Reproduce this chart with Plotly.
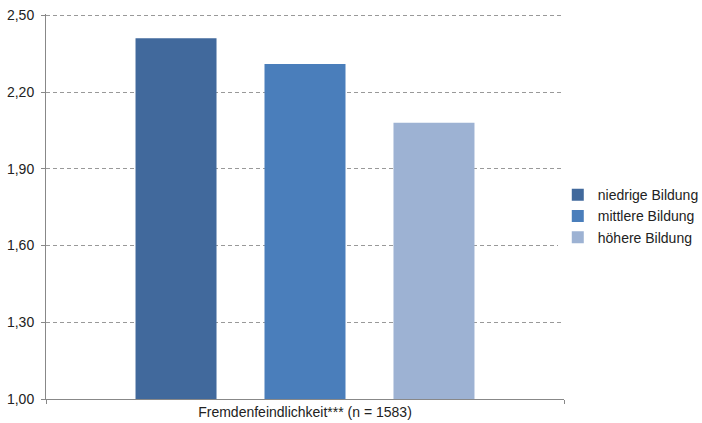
import plotly.graph_objects as go

category = ["Fremdenfeindlichkeit*** (n = 1583)"]
series_names = ["niedrige Bildung", "mittlere Bildung", "höhere Bildung"]
series_values = [2.41, 2.31, 2.08]
colors = ["#41699C", "#4A7EBB", "#9DB2D3"]
y_ticks = [1.0, 1.3, 1.6, 1.9, 2.2, 2.5]

fig = go.Figure()
for i, (name, val, col) in enumerate(zip(series_names, series_values, colors)):
    fig.add_trace(go.Bar(x=category, y=[val], name=name, marker_color=col,
                         marker_line_width=0, legendgroup=name))

fig.update_layout(
    width=702, height=423,
    margin=dict(l=46, r=138, t=14, b=24, autoexpand=False),
    paper_bgcolor="white", plot_bgcolor="white",
    barmode="group", bargap=0.253, bargroupgap=0.372,
    separators=",.",
    font=dict(family="Liberation Sans, Arial, sans-serif", size=14, color="#222"),
    legend=dict(x=0.988, xanchor="left", y=0.475, yanchor="middle",
                traceorder="grouped", tracegroupgap=0,
                font=dict(size=14, color="#222"), itemwidth=30),
    showlegend=True,
)
fig.update_yaxes(range=[1.0, 2.505], tickvals=y_ticks, tickformat=".2f",
                 showgrid=True, gridcolor="#999", griddash="4px,3px", gridwidth=1,
                 showline=True, linecolor="#888", linewidth=1,
                 ticks="outside", ticklen=4, tickcolor="#888", zeroline=False,
                 automargin=False, tickfont=dict(size=14), ticklabelstandoff=4)
fig.update_xaxes(showline=True, linecolor="#888", linewidth=1, ticks="outside",
                 tickson="boundaries", ticklen=4, tickcolor="#888",
                 showgrid=False, automargin=False, tickfont=dict(size=14))
fig.write_html("out.html")
